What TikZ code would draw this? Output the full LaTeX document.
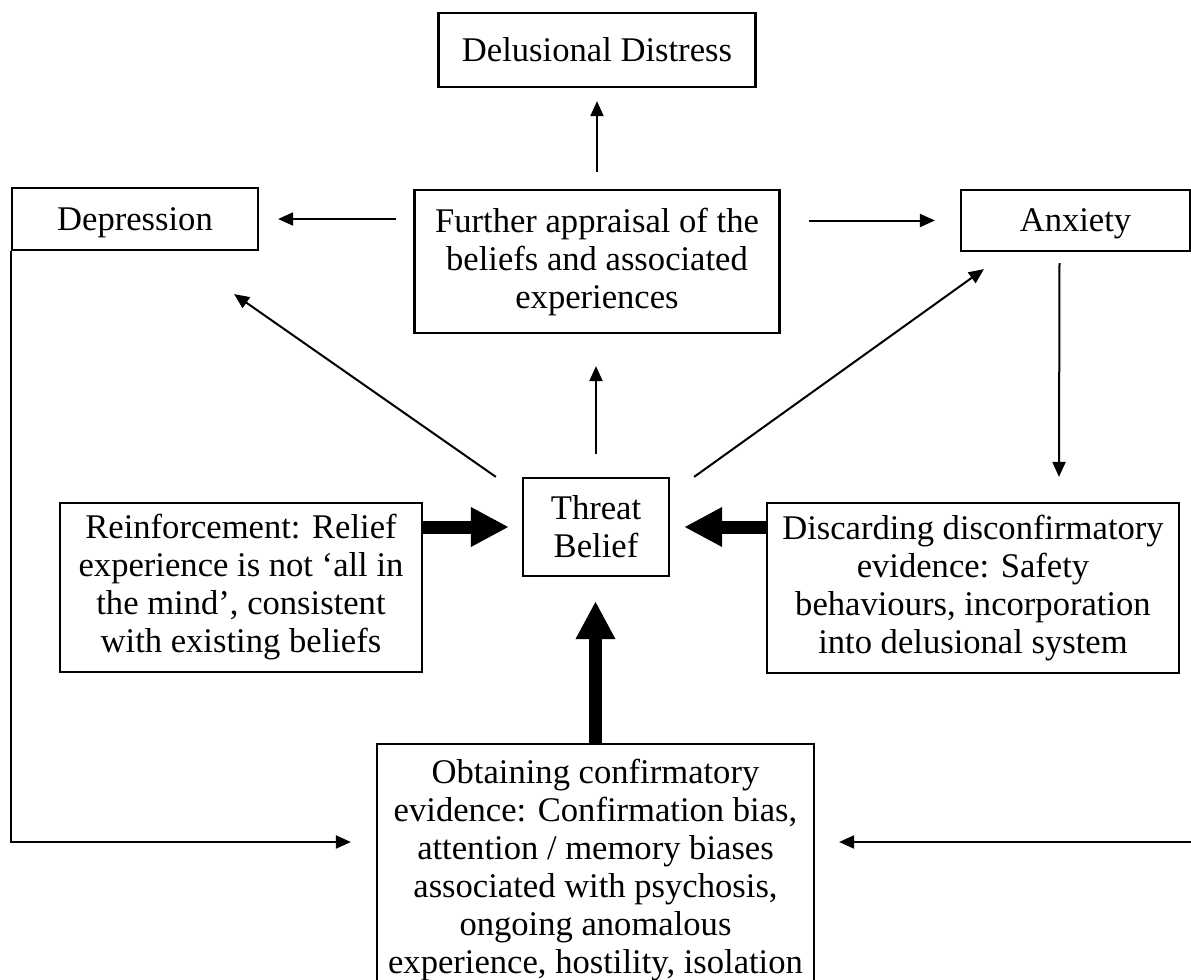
\documentclass[tikz,border=0pt]{standalone}
\usepackage{fontspec}
\setmainfont{Liberation Serif}
\usetikzlibrary{arrows.meta,calc}

\begin{document}
\begin{tikzpicture}[x=0.5pt,y=-0.5pt,
	thinarr/.style={line width=1pt, -{Triangle[length=7.5pt,width=6.5pt]}},
	fatarr/.style={line width=6.5pt, -{Triangle[length=19pt,width=18.5pt]}}]
	\useasboundingbox (0,0) rectangle (1191,980);
	\begin{scope}[every node/.style={draw, line width=1.1pt, align=center, inner sep=3pt,
		font=\fontsize{17.3}{19}\selectfont}]

	\node[minimum width=158.5pt, minimum height=37pt] (distress) at (597,50) {Delusional Distress};
	\node[minimum width=123pt, minimum height=31pt, text depth=0pt] (depr) at (135,219) {Depression};
	\node[minimum width=182.5pt, minimum height=71.5pt] (appr) at (597,261.5) {
		Further appraisal of the\\beliefs and associated\\experiences};
	\node[minimum width=114.5pt, minimum height=30.5pt, text depth=0pt] (anx) at (1075.5,220.5) {Anxiety};
	\node[minimum width=73pt, minimum height=49pt] (threat) at (596,527) {Threat\\Belief};
	\node[minimum width=181pt, minimum height=84.5pt] (reinf) at (241,587.5) {
		Reinforcement: Relief\\experience is not `all in\\the mind', consistent\\with existing beliefs};
	\node[minimum width=206pt, minimum height=85pt] (disc) at (973,588) {
		Discarding disconfirmatory\\evidence: Safety\\behaviours, incorporation\\into delusional system};
	\node[minimum width=218.5pt, minimum height=126pt] (obt) at (595.5,870) {
		Obtaining confirmatory\\evidence: Confirmation bias,\\attention / memory biases\\
		associated with psychosis,\\ongoing anomalous\\experience, hostility, isolation};
	\end{scope}

	\coordinate (rgt) at (1192,842);

	% appraisal
	\draw[thinarr, shorten <=8.5pt, shorten >=6.5pt] (appr.north) -- (appr.north |- distress.south);
	\draw[thinarr, shorten <=8.5pt, shorten >=9.5pt] (appr.west |- depr.east) -- (depr.east);
	\draw[thinarr, shorten <=14pt, shorten >=12.5pt] (appr.east |- anx.west) -- (anx.west);

	% out of the threat belief
	\draw[thinarr, shorten <=11.5pt, shorten >=16pt] (threat.north) -- (threat.north |- appr.south);
	\draw[thinarr] ($(threat.north west)+(-26,0)$) -- ($(depr.south east)+(-25,43)$);
	\draw[thinarr] ($(threat.north east)+(24,0)$) -- ($(anx.south west)+(24,17)$);
	\draw[thinarr] ($(anx.south)+(-16,11)$) -- ($(disc.north)+(86,-25)$);

	% back to the evidence
	\draw[thinarr] (depr.south west) |- ($(obt.west)+(-25,-28)$);
	\draw[thinarr] (rgt) -- ($(obt.east)+(24,-28)$);

	% into the threat belief
	\draw[fatarr, shorten >=6.5pt] (reinf.east |- threat.west) -- (threat.west);
	\draw[fatarr, shorten >=7pt] (disc.west |- threat.east) -- (threat.east);
	\draw[fatarr, shorten >=12pt] (obt.north) -- (obt.north |- threat.south);

\end{tikzpicture}
\end{document}
